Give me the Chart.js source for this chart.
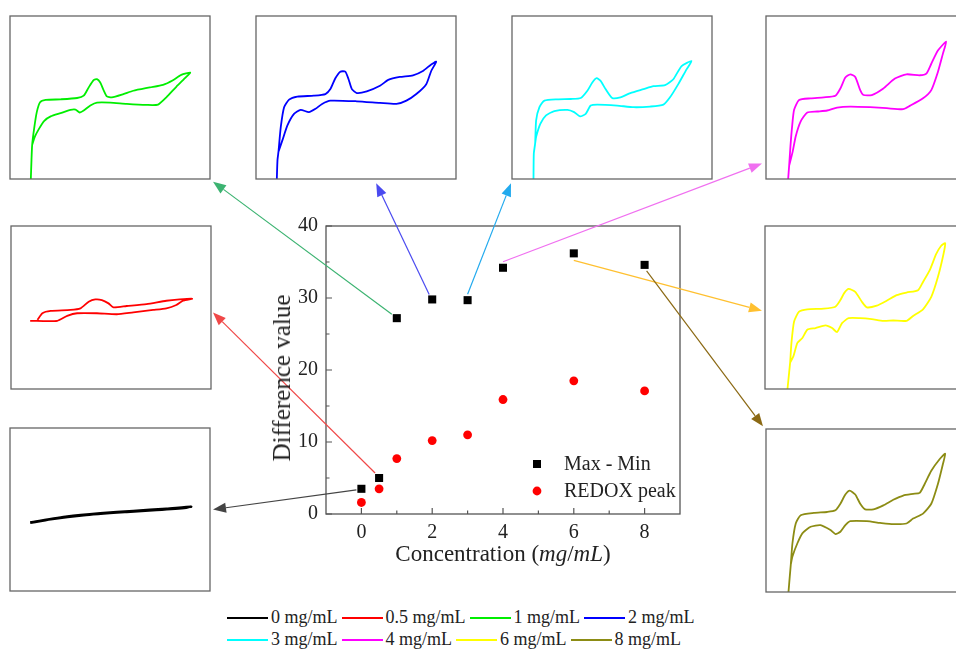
<!DOCTYPE html>
<html>
<head>
<meta charset="utf-8">
<script src="https://cdn.jsdelivr.net/npm/chart.js@4.4.1/dist/chart.umd.min.js"></script>
<style>
  html, body { margin: 0; padding: 0; background: #fff; }
  #page { position: relative; width: 956px; height: 655px; overflow: hidden; font-family: "Liberation Serif", serif; }
  .inset { position: absolute; width: 202px; height: 165px; }
  #main { position: absolute; left: 0; top: 0; z-index: 5; }
  #xtitle { position: absolute; left: 326px; width: 354px; top: 541px; text-align: center; font-size: 23px; color: #222; z-index: 6; }
  #ytitle { position: absolute; left: 282px; top: 378px; transform: translate(-50%, -50%) rotate(-90deg); white-space: nowrap; font-size: 25px; color: #222; z-index: 6; }
  .lrow { position: absolute; left: 227px; display: flex; align-items: center; font-size: 18px; color: #222; }
  .litem { display: flex; align-items: center; margin-right: 4px; }
  .lline { width: 41px; height: 2px; margin-right: 3px; }
</style>
</head>
<body>
<div id="page">
  <canvas id="main" width="956" height="655"></canvas>
  <div id="xtitle">Concentration (<i>mg</i>/<i>mL</i>)</div>
  <div id="ytitle">Difference value</div>
  <div class="lrow" id="legendRow1" style="top:607px"></div>
  <div class="lrow" id="legendRow2" style="top:629px"></div>
</div>
<script>
// main scatter data
const concentration = [0, 0.5, 1, 2, 3, 4, 6, 8];
const maxMin = [3.5, 5.0, 27.2, 29.8, 29.7, 34.2, 36.2, 34.6];
const redoxPeak = [1.6, 3.5, 7.7, 10.2, 11.0, 15.9, 18.5, 17.1];
const xTickValues = [0, 2, 4, 6, 8];
const yTickValues = [0, 10, 20, 30, 40];
const xMinorTicks = [1, 3, 5, 7];
const yMinorTicks = [5, 15, 25, 35];

const seriesLabels = ["0 mg/mL", "0.5 mg/mL", "1 mg/mL", "2 mg/mL", "3 mg/mL", "4 mg/mL", "6 mg/mL", "8 mg/mL"];
const seriesColors = ["#000000", "#ff0000", "#00ee00", "#0000ff", "#00ffff", "#ff00ff", "#ffff00", "#8c8c14"];
const arrowColors = ["#444444", "#f04848", "#3cb371", "#4a4af0", "#22aaee", "#f070f0", "#ffc030", "#8b6914"];

// CV loops (potential, current), arbitrary units
const cv0 = [[61,208],[173,226],[273,236],[373,243],[473,250],[548,256],[533,253],[443,246],[353,240],[223,230],[123,218],[61,207]];
const cv05 = [[58,207],[140,207],[170,222],[200,230],[260,230],[320,227],[370,233],[430,240],[470,245],[500,255],[520,268],[548,274],[510,272],[470,268],[410,258],[350,252],[310,248],[295,260],[275,270],[255,272],[235,265],[210,245],[180,240],[120,237],[95,230],[80,210]];
const cv1 = [[63,0],[65,58],[67,103],[73,153],[81,203],[91,233],[108,240],[153,242],[203,246],[223,253],[238,278],[253,300],[263,303],[273,293],[283,270],[293,251],[308,248],[343,258],[373,268],[423,278],[463,286],[493,300],[518,316],[545,323],[533,310],[503,280],[473,248],[448,226],[413,225],[353,228],[303,232],[263,232],[243,223],[223,208],[211,202],[198,211],[183,210],[153,200],[123,190],[103,176],[88,153],[75,128],[67,103]];
const cv2 = [[63,0],[65,58],[68,83],[75,158],[85,218],[100,241],[125,250],[175,253],[210,258],[225,273],[240,306],[255,326],[270,326],[280,303],[290,273],[305,261],[335,266],[375,283],[400,301],[435,310],[475,315],[505,328],[530,348],[545,356],[530,328],[515,288],[485,258],[455,238],[425,228],[375,231],[305,236],[225,238],[200,228],[180,213],[160,203],[135,210],[115,198],[95,163],[80,118],[68,83]];
const cv3 = [[65,0],[66,78],[70,108],[73,178],[83,218],[98,238],[138,242],[178,243],[208,246],[228,268],[243,293],[256,306],[268,298],[283,273],[303,246],[328,248],[358,261],[398,273],[428,282],[463,285],[488,303],[513,343],[543,358],[528,333],[503,288],[478,248],[458,226],[418,220],[368,218],[318,223],[258,226],[238,223],[223,198],[206,190],[188,203],[168,210],[128,206],[103,193],[86,168],[73,128],[70,108]];
const cv4 = [[67,0],[70,40],[74,100],[79,160],[85,210],[100,240],[135,245],[175,248],[210,253],[225,275],[240,308],[255,318],[270,310],[285,270],[295,255],[320,255],[355,275],[390,305],[425,318],[465,315],[485,320],[500,350],[520,390],[545,417],[535,380],[520,325],[500,270],[475,245],[435,222],[415,212],[365,215],[315,218],[255,220],[215,217],[185,208],[155,205],[125,202],[105,175],[90,130],[80,80],[70,40]];
const cv6 = [[68,0],[73,50],[76,80],[80,140],[88,205],[103,235],[128,242],[178,244],[213,250],[228,270],[240,292],[253,304],[273,295],[293,265],[308,248],[338,253],[368,268],[398,285],[428,293],[463,300],[478,325],[498,360],[518,410],[533,435],[545,443],[540,410],[523,340],[503,280],[478,242],[448,222],[428,207],[388,208],[358,207],[323,212],[288,215],[253,215],[233,200],[218,173],[203,185],[183,193],[153,185],[128,180],[113,155],[98,140],[86,100],[76,80]];
const cv8 = [[68,0],[72,48],[75,83],[80,148],[90,208],[105,233],[145,240],[185,243],[210,248],[225,268],[240,296],[253,308],[270,296],[285,268],[300,251],[325,251],[355,263],[385,280],[415,293],[445,298],[465,301],[480,328],[500,368],[525,403],[542,420],[535,388],[520,328],[500,268],[475,238],[445,223],[425,208],[385,206],[345,210],[305,215],[255,215],[240,203],[225,183],[210,176],[195,188],[165,203],[135,198],[110,178],[95,148],[80,108],[75,83]];
const cvLoops = [cv0, cv05, cv1, cv2, cv3, cv4, cv6, cv8];

// where each inset sits on the page
const insetBoxes = [[9, 427], [10, 225], [9, 15], [255, 15], [511, 15], [765, 15], [764, 225], [765, 428]];
// arrow: start offset from the data point (px), tip as a fraction of the inset box
const arrowStart = [[-5, 1], [-4, -5], [-5, -4], [-3, -5], [0, -6], [0, -6], [0, 7], [2, 6]];
const arrowTip = [[1.01, 0.5], [1.005, 0.53], [1.01, 1.01], [0.6, 1.02], [0, 1.02], [-0.015, 0.9], [-0.01, 0.52], [-0.01, -0.01]];

const FONT = "Liberation Serif";
const page = document.getElementById("page");

const insetFrame = {
  id: "insetFrame",
  afterDraw(chart) {
    const { ctx, chartArea: a } = chart;
    ctx.save();
    ctx.strokeStyle = "#666";
    ctx.lineWidth = 1.3;
    ctx.strokeRect(a.left, a.top, a.right - a.left, a.bottom - a.top);
    ctx.restore();
  },
};

const insetEls = [];
cvLoops.forEach((loop, i) => {
  const div = document.createElement("div");
  div.className = "inset";
  div.style.left = insetBoxes[i][0] + "px";
  div.style.top = insetBoxes[i][1] + "px";
  const cv = document.createElement("canvas");
  cv.width = 202;
  cv.height = 165;
  div.appendChild(cv);
  page.appendChild(div);
  insetEls.push(div);

  new Chart(cv, {
    type: "scatter",
    data: {
      datasets: [
        {
          label: seriesLabels[i],
          data: loop,
          showLine: true,
          borderColor: seriesColors[i],
          borderWidth: i === 0 ? 2.5 : 1.8,
          pointRadius: 0,
          tension: 0.2,
        },
      ],
    },
    options: {
      responsive: false,
      animation: false,
      events: [],
      layout: { padding: 1 },
      plugins: { legend: { display: false }, tooltip: { enabled: false } },
      scales: {
        x: { display: false, min: 0, max: 605 },
        y: { display: false, min: 0, max: 495 },
      },
    },
    plugins: [insetFrame],
  });
});

// bottom legend
seriesLabels.forEach((lbl, i) => {
  const row = document.getElementById(i < 4 ? "legendRow1" : "legendRow2");
  const item = document.createElement("div");
  item.className = "litem";
  item.innerHTML = '<span class="lline" style="background:' + seriesColors[i] + '"></span><span>' + lbl + "</span>";
  row.appendChild(item);
});

function drawArrow(ctx, x1, y1, x2, y2, color) {
  const ang = Math.atan2(y2 - y1, x2 - x1);
  const hl = 13, hw = 5;
  const bx = x2 - hl * Math.cos(ang);
  const by = y2 - hl * Math.sin(ang);
  ctx.strokeStyle = color;
  ctx.fillStyle = color;
  ctx.lineWidth = 1.2;
  ctx.beginPath();
  ctx.moveTo(x1, y1);
  ctx.lineTo(bx, by);
  ctx.stroke();
  ctx.beginPath();
  ctx.moveTo(x2, y2);
  ctx.lineTo(bx + hw * Math.sin(ang), by - hw * Math.cos(ang));
  ctx.lineTo(bx - hw * Math.sin(ang), by + hw * Math.cos(ang));
  ctx.closePath();
  ctx.fill();
}

const frameAndArrows = {
  id: "frameAndArrows",
  beforeDatasetsDraw(chart) {
    const { ctx, chartArea: a, scales: { x, y } } = chart;
    ctx.save();
    // frame
    ctx.strokeStyle = "#555";
    ctx.lineWidth = 1.3;
    ctx.strokeRect(a.left, a.top, a.right - a.left, a.bottom - a.top);
    // inward ticks
    ctx.lineWidth = 1.2;
    ctx.beginPath();
    xTickValues.forEach((v) => { const px = x.getPixelForValue(v); ctx.moveTo(px, a.bottom); ctx.lineTo(px, a.bottom - 6); });
    xMinorTicks.forEach((v) => { const px = x.getPixelForValue(v); ctx.moveTo(px, a.bottom); ctx.lineTo(px, a.bottom - 3.5); });
    yTickValues.forEach((v) => { const py = y.getPixelForValue(v); ctx.moveTo(a.left, py); ctx.lineTo(a.left + 6, py); });
    yMinorTicks.forEach((v) => { const py = y.getPixelForValue(v); ctx.moveTo(a.left, py); ctx.lineTo(a.left + 3.5, py); });
    ctx.stroke();
    // arrows from each Max - Min point to its CV inset
    concentration.forEach((c, i) => {
      const sx = x.getPixelForValue(c) + arrowStart[i][0];
      const sy = y.getPixelForValue(maxMin[i]) + arrowStart[i][1];
      const el = insetEls[i];
      const tx = el.offsetLeft + arrowTip[i][0] * el.offsetWidth;
      const ty = el.offsetTop + arrowTip[i][1] * el.offsetHeight;
      drawArrow(ctx, sx, sy, tx, ty, arrowColors[i]);
    });
    ctx.restore();
  },
  afterDraw(chart) {
    const { ctx, chartArea: a } = chart;
    const mx = a.right - 143;
    const rows = [a.bottom - 50, a.bottom - 23];
    ctx.save();
    ctx.font = "20px '" + FONT + "'";
    ctx.textBaseline = "middle";
    chart.data.datasets.forEach((ds, i) => {
      const my = rows[i];
      ctx.fillStyle = ds.backgroundColor;
      if (i === 0) {
        ctx.fillRect(mx - 4, my - 4, 8, 8);
      } else {
        ctx.beginPath();
        ctx.arc(mx, my, 4.4, 0, Math.PI * 2);
        ctx.fill();
      }
      ctx.fillStyle = "#222";
      ctx.fillText(ds.label, mx + 27, my + 1);
    });
    ctx.restore();
  },
};

new Chart(document.getElementById("main"), {
  type: "scatter",
  data: {
    datasets: [
      {
        label: "Max - Min",
        data: concentration.map((c, i) => ({ x: c, y: maxMin[i] })),
        pointStyle: "rect",
        pointRadius: 5.7,
        backgroundColor: "#000",
        borderWidth: 0,
      },
      {
        label: "REDOX peak",
        data: concentration.map((c, i) => ({ x: c, y: redoxPeak[i] })),
        pointStyle: "circle",
        pointRadius: 4.4,
        backgroundColor: "#ff0000",
        borderWidth: 0,
      },
    ],
  },
  options: {
    responsive: false,
    animation: false,
    events: [],
    layout: { padding: { left: 264, top: 226, right: 276, bottom: 81 } },
    plugins: { legend: { display: false }, tooltip: { enabled: false } },
    scales: {
      x: {
        min: -1,
        max: 9,
        afterBuildTicks: (s) => { s.ticks = xTickValues.map((v) => ({ value: v })); },
        afterFit: (s) => { s.height = 60; },
        grid: { display: false, drawTicks: false },
        border: { display: false },
        ticks: { padding: 7, color: "#222", font: { family: FONT, size: 20 } },
      },
      y: {
        min: 0,
        max: 40,
        afterBuildTicks: (s) => { s.ticks = yTickValues.map((v) => ({ value: v })); },
        afterFit: (s) => { s.width = 62; },
        grid: { display: false, drawTicks: false },
        border: { display: false },
        ticks: { padding: 8, color: "#222", font: { family: FONT, size: 20 } },
      },
    },
  },
  plugins: [frameAndArrows],
});
</script>
</body>
</html>
